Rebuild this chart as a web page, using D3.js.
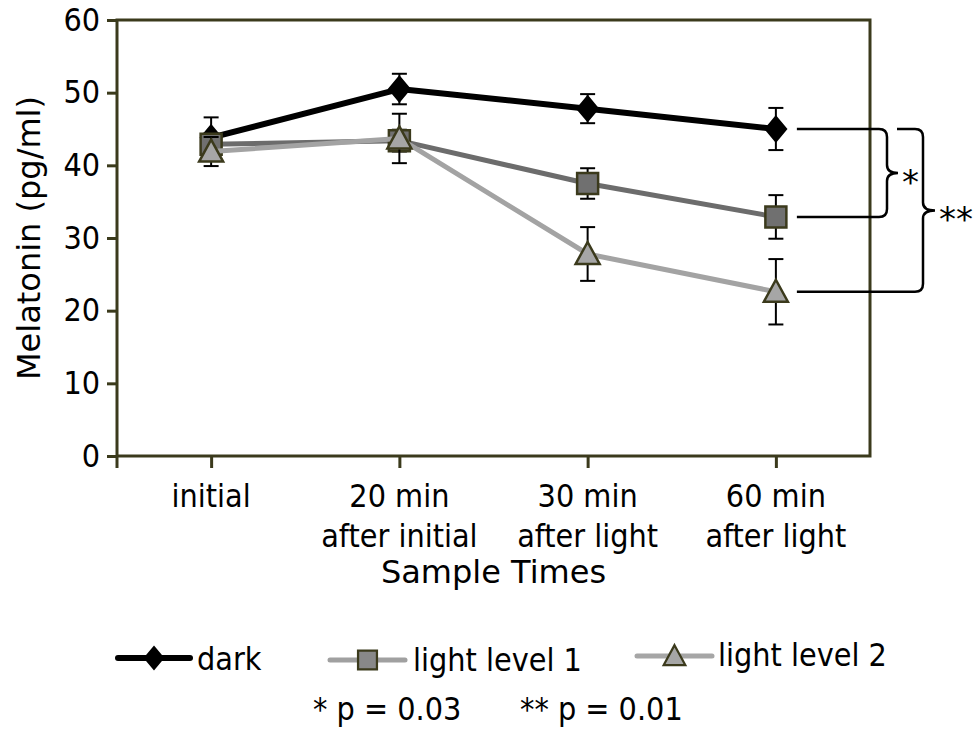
<!DOCTYPE html>
<html>
<head>
<meta charset="utf-8">
<script src="https://cdn.jsdelivr.net/npm/d3@7"></script>
<style>
  body { margin: 0; background: #fff; }
  svg { display: block; font-family: "DejaVu Sans", Verdana, sans-serif; }
  .cond { font-family: "DejaVu Sans Condensed", "DejaVu Sans", sans-serif; font-stretch: condensed; }
</style>
</head>
<body>
<svg id="chart" width="975" height="738"></svg>
<script>
// data
const categories = ["initial", "20 min after initial", "30 min after light", "60 min after light"];
const tickLines = [["initial"], ["20 min", "after initial"], ["30 min", "after light"], ["60 min", "after light"]];
const yTicks = [0, 10, 20, 30, 40, 50, 60];

const darkMean = [43.8, 50.5, 47.8, 45.0];
const darkErr = [2.8, 2.1, 2.0, 2.9];
const light1Mean = [42.9, 43.4, 37.5, 32.9];
const light1Err = [1.5, 1.5, 2.1, 3.0];
const light2Mean = [41.9, 43.7, 27.8, 22.6];
const light2Err = [2.0, 3.4, 3.7, 4.5];

const seriesNames = ["dark", "light level 1", "light level 2"];
const pLabels = ["* p = 0.03", "** p = 0.01"];

/***********************
 * dimensions
 ************************/
const dims = { left: 117, right: 870, top: 20, bottom: 456 };
const axisColor = "#3b3a1c";

const svg = d3.select("#chart");
svg.append("rect").attr("width", 975).attr("height", 738).attr("fill", "#fff");

const x = d3.scalePoint().domain(categories).range([dims.left, dims.right]).padding(0.5);
const y = d3.scaleLinear().domain([0, 60]).range([dims.bottom, dims.top]);

// marker shapes
const diamond = "M0,-12L10,0L0,12L-10,0Z";
const square = "M-10.5,-10.5H10.5V10.5H-10.5Z";
const triangle = "M0,-12L12,10H-12Z";

const series = [
  { name: seriesNames[0], mean: darkMean, err: darkErr, line: "#000", lw: 6, shape: diamond, fill: "#000", stroke: "#000" },
  { name: seriesNames[1], mean: light1Mean, err: light1Err, line: "#6c6c6c", lw: 5, shape: square, fill: "#707070", stroke: axisColor },
  { name: seriesNames[2], mean: light2Mean, err: light2Err, line: "#a3a3a3", lw: 5, shape: triangle, fill: "#a6a6a6", stroke: axisColor },
];

/***********************
 * axes
 ************************/
const yAxis = svg.append("g")
  .attr("transform", `translate(${dims.left},0)`)
  .call(d3.axisLeft(y).tickValues(yTicks).tickSize(10).tickPadding(7));
yAxis.select(".domain").remove();
yAxis.selectAll("line").attr("stroke", axisColor).attr("stroke-width", 3);
yAxis.selectAll("text").attr("class", "cond").attr("font-size", 32).attr("font-family", null).attr("fill", "#000");

const xAxis = svg.append("g")
  .attr("transform", `translate(0,${dims.bottom})`)
  .call(d3.axisBottom(x).tickSize(12));
xAxis.select(".domain").remove();
xAxis.selectAll("line").attr("stroke", axisColor).attr("stroke-width", 3);
xAxis.selectAll("text").remove();

svg.append("g")
  .selectAll("text")
  .data(categories)
  .join("text")
  .attr("class", "cond")
  .attr("x", (d) => x(d))
  .attr("text-anchor", "middle")
  .attr("font-size", 32)
  .each(function (d, i) {
    d3.select(this).selectAll("tspan")
      .data(tickLines[i])
      .join("tspan")
      .attr("x", x(d))
      .attr("y", (t, j) => 507 + j * 40)
      .text((t) => t);
  });

// plot frame
svg.append("rect")
  .attr("x", dims.left).attr("y", dims.top)
  .attr("width", dims.right - dims.left).attr("height", dims.bottom - dims.top)
  .attr("fill", "none").attr("stroke", axisColor).attr("stroke-width", 3);
svg.append("line")
  .attr("x1", dims.left).attr("x2", dims.left)
  .attr("y1", dims.bottom).attr("y2", dims.bottom + 12)
  .attr("stroke", axisColor).attr("stroke-width", 3);

// axis titles
svg.append("text")
  .attr("x", (dims.left + dims.right) / 2).attr("y", 583)
  .attr("text-anchor", "middle").attr("font-size", 32)
  .text("Sample Times");
svg.append("text")
  .attr("transform", `translate(40,${(dims.top + dims.bottom) / 2}) rotate(-90)`)
  .attr("text-anchor", "middle").attr("font-size", 32)
  .text("Melatonin (pg/ml)");

/***********************
 * series
 ************************/
const lineGen = d3.line().x((d, i) => x(categories[i])).y((d) => y(d));

series.forEach((s) => {
  const g = svg.append("g");
  g.append("path")
    .attr("d", lineGen(s.mean))
    .attr("fill", "none")
    .attr("stroke", s.line)
    .attr("stroke-width", s.lw)
    .attr("stroke-linejoin", "round");

  const eb = g.append("g").attr("stroke", "#000").attr("stroke-width", 2);
  s.mean.forEach((m, i) => {
    const cx = x(categories[i]);
    const hi = y(m + s.err[i]);
    const lo = y(m - s.err[i]);
    eb.append("line").attr("x1", cx).attr("x2", cx).attr("y1", hi).attr("y2", lo);
    eb.append("line").attr("x1", cx - 7.5).attr("x2", cx + 7.5).attr("y1", hi).attr("y2", hi);
    eb.append("line").attr("x1", cx - 7.5).attr("x2", cx + 7.5).attr("y1", lo).attr("y2", lo);
  });

  g.selectAll(".mk")
    .data(s.mean)
    .join("path")
    .attr("d", s.shape)
    .attr("transform", (d, i) => `translate(${x(categories[i])},${y(d)})`)
    .attr("fill", s.fill)
    .attr("stroke", s.stroke)
    .attr("stroke-width", 2.5);
});

/***********************
 * significance brackets
 ************************/
function brace(x0Top, x0Bot, xb, yTop, yBot, tip, r) {
  const yMid = (yTop + yBot) / 2;
  return `M${x0Top},${yTop}H${xb - r}Q${xb},${yTop} ${xb},${yTop + r}` +
    `V${yMid - r}Q${xb},${yMid} ${xb + tip},${yMid}` +
    `Q${xb},${yMid} ${xb},${yMid + r}V${yBot - r}` +
    `Q${xb},${yBot} ${xb - r},${yBot}H${x0Bot}`;
}
const last = categories.length - 1;
const bx = x(categories[last]) + 21;
const yD = y(darkMean[last]);
const y1 = y(light1Mean[last]);
const y2 = y(light2Mean[last]);

const br = svg.append("g").attr("fill", "none").attr("stroke", "#000").attr("stroke-width", 2.5);
br.append("path").attr("d", brace(bx, bx, 887, yD, y1, 11, 8));
br.append("path").attr("d", brace(897, bx, 923, yD, y2, 12, 8));

svg.append("text").attr("x", 902).attr("y", (yD + y1) / 2 + 21).attr("font-size", 34).text("*");
svg.append("text").attr("x", 939).attr("y", (yD + y2) / 2 + 21).attr("font-size", 34).text("**");

/***********************
 * legend
 ************************/
const legendItems = [
  { s: series[0], x0: 118, x1: 190, y: 658, tx: 197, ty: 670, line: "#000", lw: 6, fill: "#000" },
  { s: series[1], x0: 330, x1: 405, y: 660, tx: 413, ty: 671, line: "#a0a0a0", lw: 5, fill: "#888" },
  { s: series[2], x0: 637, x1: 712, y: 656, tx: 718, ty: 666, line: "#a6a6a6", lw: 5, fill: "#a6a6a6" },
];
const leg = svg.append("g");
legendItems.forEach((it) => {
  leg.append("line")
    .attr("x1", it.x0).attr("x2", it.x1).attr("y1", it.y).attr("y2", it.y)
    .attr("stroke", it.line).attr("stroke-width", it.lw).attr("stroke-linecap", "round");
  leg.append("path")
    .attr("d", it.s.shape)
    .attr("transform", `translate(${(it.x0 + it.x1) / 2},${it.y}) scale(0.9)`)
    .attr("fill", it.fill).attr("stroke", it.s.stroke).attr("stroke-width", 2.5);
  leg.append("text").attr("class", "cond").attr("x", it.tx).attr("y", it.ty).attr("font-size", 32).text(it.s.name);
});
leg.append("text").attr("class", "cond").attr("x", 313).attr("y", 720).attr("font-size", 32).attr("xml:space", "preserve").text(pLabels[0]);
leg.append("text").attr("class", "cond").attr("x", 520).attr("y", 720).attr("font-size", 32).attr("xml:space", "preserve").text(pLabels[1]);
</script>
</body>
</html>
